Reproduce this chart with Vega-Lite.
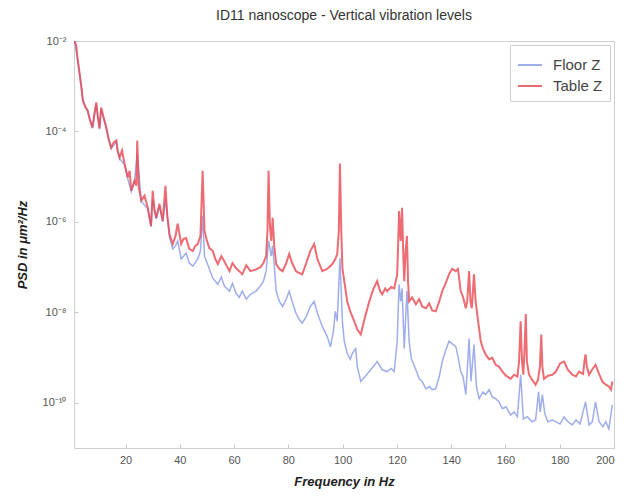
{
  "$schema": "https://vega.github.io/schema/vega-lite/v6.json",
  "autosize": "none",
  "width": 540,
  "height": 407,
  "padding": {"left": 74, "top": 41, "right": 20, "bottom": 48},
  "background": "white",
  "title": {"text": "ID11 nanoscope - Vertical vibration levels", "font": "Liberation Sans", "fontSize": 14, "fontWeight": "normal", "color": "#333333", "anchor": "middle", "offset": 12},
  "config": {
    "view": {"stroke": "#d0d0d0", "strokeWidth": 1},
    "axis": {"labelFont": "Liberation Sans", "titleFont": "Liberation Sans", "labelColor": "#555555", "labelFontSize": 11, "titleColor": "#222222", "titleFontSize": 13, "titleFontWeight": "bold", "titleFontStyle": "italic", "grid": false, "domainColor": "#d0d0d0", "tickColor": "#c8c8c8"}
  },
  "datasets": {
    "floor": [
      {"f":1.2,"p":1e-2},{"f":2.3,"p":3.98e-3},{"f":3.05,"p":1.86e-3},{"f":4.27,"p":4.68e-4},{"f":6.0,"p":2.82e-4},{"f":7.8,"p":1.17e-4},{"f":9.2,"p":3.98e-4},{"f":10.4,"p":1.12e-4},{"f":11.0,"p":3.16e-4},{"f":12.9,"p":1.17e-4},{"f":14.7,"p":4.17e-5},{"f":16.6,"p":5.89e-5},{"f":17.8,"p":2.51e-5},{"f":19.6,"p":1.86e-5},{"f":20.8,"p":9.12e-6},{"f":22.1,"p":4.68e-6},{"f":23.3,"p":7.76e-6},{"f":24.3,"p":3.16e-5},{"f":25.8,"p":2.82e-6},{"f":28.2,"p":1.95e-6},{"f":29.4,"p":7.76e-7},{"f":30.0,"p":3.16e-6},{"f":31.3,"p":1.17e-6},{"f":32.5,"p":2.24e-6},{"f":33.7,"p":1e-6},{"f":34.7,"p":3.16e-6},{"f":36.2,"p":4.47e-7},{"f":37.4,"p":2.51e-7},{"f":38.4,"p":2.95e-7},{"f":39.2,"p":3.8e-7},{"f":40.5,"p":1.51e-7},{"f":42.3,"p":2.04e-7},{"f":43.5,"p":1.23e-7},{"f":44.8,"p":1.05e-7},{"f":46.6,"p":1.51e-7},{"f":47.6,"p":2.29e-7},{"f":48.4,"p":1.35e-6},{"f":49.1,"p":1.74e-7},{"f":50.9,"p":9.12e-8},{"f":52.1,"p":5.75e-8},{"f":54.0,"p":4.17e-8},{"f":55.3,"p":6.03e-8},{"f":56.4,"p":3.8e-8},{"f":58.3,"p":2.95e-8},{"f":59.4,"p":4.37e-8},{"f":60.7,"p":2.63e-8},{"f":61.9,"p":2.14e-8},{"f":63.0,"p":2.95e-8},{"f":64.5,"p":1.95e-8},{"f":66.0,"p":2.51e-8},{"f":68.1,"p":2.95e-8},{"f":69.7,"p":3.8e-8},{"f":70.8,"p":4.9e-8},{"f":71.8,"p":8.13e-8},{"f":72.7,"p":3.8e-7},{"f":73.7,"p":1.74e-7},{"f":74.2,"p":2.95e-7},{"f":74.8,"p":1.05e-7},{"f":75.5,"p":2.95e-8},{"f":76.7,"p":1.74e-8},{"f":77.9,"p":1.35e-8},{"f":79.2,"p":1.95e-8},{"f":80.3,"p":2.95e-8},{"f":81.4,"p":1.74e-8},{"f":82.8,"p":9.55e-9},{"f":84.0,"p":6.92e-9},{"f":85.1,"p":5.75e-9},{"f":86.6,"p":8.13e-9},{"f":88.1,"p":1.35e-8},{"f":89.5,"p":1.74e-8},{"f":90.7,"p":9.55e-9},{"f":92.5,"p":4.9e-9},{"f":94.3,"p":2.95e-9},{"f":95.5,"p":1.74e-9},{"f":96.6,"p":3.8e-9},{"f":97.3,"p":1.05e-8},{"f":98.0,"p":6.31e-9},{"f":99.0,"p":1.58e-7},{"f":99.9,"p":6.31e-9},{"f":100.6,"p":2.29e-9},{"f":101.7,"p":1.23e-9},{"f":102.8,"p":9.12e-10},{"f":103.6,"p":1.26e-9},{"f":104.8,"p":1.58e-9},{"f":105.4,"p":6.31e-10},{"f":106.7,"p":2.95e-10},{"f":108.3,"p":3.8e-10},{"f":109.8,"p":4.9e-10},{"f":111.3,"p":6.31e-10},{"f":112.7,"p":8.13e-10},{"f":114.6,"p":5.37e-10},{"f":116.4,"p":4.9e-10},{"f":117.9,"p":5.75e-10},{"f":119.0,"p":4.9e-10},{"f":120.1,"p":2.29e-9},{"f":120.8,"p":4.17e-8},{"f":121.4,"p":1.74e-8},{"f":121.9,"p":3.39e-8},{"f":122.7,"p":1.58e-9},{"f":123.7,"p":2.95e-8},{"f":124.5,"p":2.29e-9},{"f":125.3,"p":9.55e-10},{"f":127.0,"p":5.37e-10},{"f":128.2,"p":3.39e-10},{"f":129.3,"p":2.95e-10},{"f":130.7,"p":2.04e-10},{"f":132.0,"p":2.29e-10},{"f":133.0,"p":1.95e-10},{"f":134.3,"p":2.04e-10},{"f":135.6,"p":3.8e-10},{"f":136.7,"p":8.13e-10},{"f":137.8,"p":1.35e-9},{"f":139.2,"p":2.29e-9},{"f":140.3,"p":2.04e-9},{"f":141.7,"p":1.74e-9},{"f":142.5,"p":1.05e-9},{"f":143.5,"p":4.9e-10},{"f":144.4,"p":3.8e-10},{"f":145.4,"p":1.51e-10},{"f":146.6,"p":2.63e-9},{"f":147.3,"p":2.95e-10},{"f":148.4,"p":1.95e-9},{"f":149.3,"p":2.29e-10},{"f":150.3,"p":1.23e-10},{"f":151.7,"p":1.74e-10},{"f":152.7,"p":1.51e-10},{"f":154.0,"p":1.95e-10},{"f":155.1,"p":1.35e-10},{"f":156.4,"p":1.23e-10},{"f":157.6,"p":1.05e-10},{"f":158.9,"p":7.41e-11},{"f":160.2,"p":8.13e-11},{"f":161.9,"p":5.37e-11},{"f":163.2,"p":6.31e-11},{"f":164.4,"p":4.9e-11},{"f":165.6,"p":4.17e-10},{"f":166.6,"p":4.37e-11},{"f":168.0,"p":4.9e-11},{"f":169.8,"p":3.8e-11},{"f":171.1,"p":4.17e-11},{"f":172.2,"p":1.74e-10},{"f":172.8,"p":6.31e-11},{"f":173.6,"p":1.51e-10},{"f":174.5,"p":5.75e-11},{"f":175.6,"p":3.8e-11},{"f":177.3,"p":4.17e-11},{"f":180.1,"p":3.39e-11},{"f":181.6,"p":4.9e-11},{"f":183.0,"p":3.8e-11},{"f":184.6,"p":3.24e-11},{"f":186.0,"p":4.17e-11},{"f":187.5,"p":3.39e-11},{"f":189.5,"p":1.05e-10},{"f":190.8,"p":3.24e-11},{"f":192.0,"p":3.8e-11},{"f":193.2,"p":1.05e-10},{"f":194.5,"p":3.8e-11},{"f":195.9,"p":2.95e-11},{"f":197.0,"p":3.8e-11},{"f":198.1,"p":2.63e-11},{"f":199.4,"p":9.12e-11}
    ],
    "table": [
      {"f":1.2,"p":1e-2},{"f":1.8,"p":8.1e-3},{"f":2.3,"p":4.17e-3},{"f":3.05,"p":1.95e-3},{"f":3.8,"p":9.12e-4},{"f":4.27,"p":4.9e-4},{"f":5.26,"p":3.39e-4},{"f":6.0,"p":2.95e-4},{"f":6.7,"p":1.95e-4},{"f":7.8,"p":1.23e-4},{"f":8.6,"p":2.63e-4},{"f":9.2,"p":4.37e-4},{"f":9.7,"p":2.29e-4},{"f":10.4,"p":1.17e-4},{"f":11.0,"p":3.39e-4},{"f":11.7,"p":2.29e-4},{"f":12.9,"p":1.23e-4},{"f":13.7,"p":6.92e-5},{"f":14.7,"p":4.37e-5},{"f":15.6,"p":5.75e-5},{"f":16.6,"p":6.31e-5},{"f":17.0,"p":3.8e-5},{"f":17.8,"p":2.63e-5},{"f":18.7,"p":3.8e-5},{"f":19.6,"p":1.95e-5},{"f":20.8,"p":9.55e-6},{"f":21.5,"p":1.35e-5},{"f":22.1,"p":4.9e-6},{"f":23.3,"p":8.13e-6},{"f":24.0,"p":6.31e-6},{"f":24.3,"p":6.31e-5},{"f":24.9,"p":5.75e-6},{"f":25.8,"p":2.95e-6},{"f":27.0,"p":3.8e-6},{"f":28.2,"p":2.04e-6},{"f":29.4,"p":8.13e-7},{"f":30.0,"p":4.9e-6},{"f":30.7,"p":1.74e-6},{"f":31.3,"p":1.23e-6},{"f":32.5,"p":2.51e-6},{"f":33.7,"p":1.05e-6},{"f":34.7,"p":6.31e-6},{"f":35.4,"p":1.35e-6},{"f":36.2,"p":5.37e-7},{"f":37.4,"p":3.24e-7},{"f":38.4,"p":4.9e-7},{"f":39.2,"p":9.12e-7},{"f":40.5,"p":3.24e-7},{"f":41.3,"p":4.17e-7},{"f":42.3,"p":4.37e-7},{"f":43.5,"p":2.51e-7},{"f":44.8,"p":2.29e-7},{"f":45.7,"p":2.95e-7},{"f":46.6,"p":3.24e-7},{"f":47.6,"p":4.9e-7},{"f":48.4,"p":1.35e-5},{"f":49.1,"p":6.31e-7},{"f":50.0,"p":3.8e-7},{"f":50.9,"p":2.63e-7},{"f":52.1,"p":2.29e-7},{"f":53.1,"p":1.51e-7},{"f":54.0,"p":1.17e-7},{"f":55.3,"p":1.74e-7},{"f":56.4,"p":1.35e-7},{"f":57.5,"p":1e-7},{"f":58.3,"p":8.13e-8},{"f":59.4,"p":1.23e-7},{"f":60.7,"p":9.55e-8},{"f":61.9,"p":8.13e-8},{"f":63.0,"p":6.92e-8},{"f":64.5,"p":1.1e-7},{"f":66.0,"p":8.13e-8},{"f":68.1,"p":8.9e-8},{"f":69.7,"p":1e-7},{"f":70.8,"p":1.23e-7},{"f":71.8,"p":1.74e-7},{"f":72.3,"p":6.31e-7},{"f":72.7,"p":1.35e-5},{"f":73.2,"p":8.13e-7},{"f":73.7,"p":3.8e-7},{"f":74.2,"p":1.23e-6},{"f":74.8,"p":2.95e-7},{"f":75.5,"p":1.17e-7},{"f":76.7,"p":9.12e-8},{"f":77.9,"p":8.13e-8},{"f":79.2,"p":1.23e-7},{"f":80.3,"p":1.95e-7},{"f":81.4,"p":1.23e-7},{"f":82.8,"p":8.13e-8},{"f":84.0,"p":7.41e-8},{"f":85.1,"p":6.92e-8},{"f":86.6,"p":1.23e-7},{"f":88.1,"p":2.29e-7},{"f":89.5,"p":3.24e-7},{"f":90.7,"p":1.51e-7},{"f":92.5,"p":8.13e-8},{"f":94.3,"p":9.12e-8},{"f":96.2,"p":1.17e-7},{"f":97.3,"p":1.51e-7},{"f":98.0,"p":1.95e-7},{"f":98.6,"p":6.31e-7},{"f":99.0,"p":1.95e-5},{"f":99.5,"p":6.31e-7},{"f":99.9,"p":9.55e-8},{"f":100.6,"p":4.9e-8},{"f":101.7,"p":1.74e-8},{"f":102.8,"p":1.05e-8},{"f":104.3,"p":6.31e-9},{"f":105.4,"p":4.17e-9},{"f":106.7,"p":3.24e-9},{"f":107.2,"p":4.37e-9},{"f":108.3,"p":8.13e-9},{"f":109.8,"p":1.74e-8},{"f":111.3,"p":3.24e-8},{"f":112.7,"p":4.9e-8},{"f":113.8,"p":2.95e-8},{"f":114.6,"p":2.51e-8},{"f":115.7,"p":3.39e-8},{"f":116.4,"p":2.95e-8},{"f":117.9,"p":3.63e-8},{"f":119.0,"p":3.39e-8},{"f":120.1,"p":6.92e-8},{"f":120.6,"p":6.31e-7},{"f":120.8,"p":1.74e-6},{"f":121.4,"p":3.8e-7},{"f":121.9,"p":2.04e-6},{"f":122.3,"p":2.29e-7},{"f":122.7,"p":4.9e-8},{"f":123.2,"p":2.29e-7},{"f":123.7,"p":4.9e-7},{"f":124.1,"p":4.9e-8},{"f":124.5,"p":1.74e-8},{"f":125.6,"p":2.14e-8},{"f":127.0,"p":1.51e-8},{"f":128.2,"p":1.95e-8},{"f":129.3,"p":1.35e-8},{"f":130.7,"p":1.23e-8},{"f":131.9,"p":1.58e-8},{"f":133.0,"p":1.1e-8},{"f":134.3,"p":1.05e-8},{"f":135.6,"p":1.74e-8},{"f":136.7,"p":2.95e-8},{"f":137.8,"p":4.17e-8},{"f":139.2,"p":6.92e-8},{"f":140.3,"p":9.12e-8},{"f":141.7,"p":8.13e-8},{"f":142.5,"p":9.12e-8},{"f":143.5,"p":2.95e-8},{"f":144.4,"p":2.14e-8},{"f":145.4,"p":1.23e-8},{"f":145.9,"p":1.74e-8},{"f":146.6,"p":8.13e-8},{"f":147.1,"p":1.74e-8},{"f":147.6,"p":1.23e-8},{"f":148.4,"p":6.92e-8},{"f":149.0,"p":1.74e-8},{"f":149.6,"p":9.12e-9},{"f":150.9,"p":2.29e-9},{"f":151.7,"p":1.58e-9},{"f":152.7,"p":1.17e-9},{"f":154.0,"p":9.12e-10},{"f":155.1,"p":1e-9},{"f":156.4,"p":6.92e-10},{"f":157.6,"p":6.31e-10},{"f":158.9,"p":4.9e-10},{"f":160.2,"p":3.98e-10},{"f":161.9,"p":3.39e-10},{"f":163.2,"p":4.17e-10},{"f":164.4,"p":3.8e-10},{"f":165.0,"p":8.13e-10},{"f":165.6,"p":6.31e-9},{"f":166.1,"p":8.13e-10},{"f":166.6,"p":4.17e-10},{"f":167.0,"p":1.35e-9},{"f":167.5,"p":9.12e-9},{"f":167.9,"p":8.13e-10},{"f":168.7,"p":4.17e-10},{"f":169.8,"p":3.24e-10},{"f":171.1,"p":2.51e-10},{"f":172.0,"p":3.24e-10},{"f":172.7,"p":6.31e-10},{"f":173.2,"p":3.24e-9},{"f":173.6,"p":6.31e-10},{"f":174.2,"p":3.39e-10},{"f":175.7,"p":3.98e-10},{"f":177.3,"p":4.17e-10},{"f":178.6,"p":4.9e-10},{"f":180.1,"p":7.41e-10},{"f":181.6,"p":8.13e-10},{"f":183.0,"p":5.37e-10},{"f":184.6,"p":4.17e-10},{"f":186.0,"p":3.8e-10},{"f":187.1,"p":4.9e-10},{"f":188.6,"p":4.37e-10},{"f":189.1,"p":8.13e-10},{"f":189.5,"p":1.17e-9},{"f":190.0,"p":6.31e-10},{"f":190.8,"p":4.17e-10},{"f":191.9,"p":5.37e-10},{"f":193.2,"p":6.92e-10},{"f":194.5,"p":4.37e-10},{"f":195.7,"p":2.95e-10},{"f":197.0,"p":2.51e-10},{"f":198.1,"p":2.29e-10},{"f":198.9,"p":1.95e-10},{"f":199.4,"p":2.95e-10}
    ]
  },
  "encoding": {
    "x": {"field": "f", "type": "quantitative", "title": "Frequency in Hz",
      "scale": {"domain": [1, 200], "nice": false, "zero": false},
      "axis": {"values": [20,40,60,80,100,120,140,160,180,200], "tickSize": -4, "labelPadding": 10, "titlePadding": 10}},
    "y": {"field": "p", "type": "quantitative", "title": "PSD in μm²/Hz",
      "scale": {"type": "log", "domain": [1e-11, 1e-2], "nice": false},
      "axis": {"values": [1e-2,1e-4,1e-6,1e-8,1e-10], "tickSize": -4, "labelPadding": 12, "titlePadding": 13,
        "labelExpr": "'10' + (round(log(datum.value)/LN10) == -2 ? '⁻²' : round(log(datum.value)/LN10) == -4 ? '⁻⁴' : round(log(datum.value)/LN10) == -6 ? '⁻⁶' : round(log(datum.value)/LN10) == -8 ? '⁻⁸' : '⁻¹⁰')"}}
  },
  "layer": [
    {
      "data": {"name": "floor"},
      "mark": {"type": "line", "clip": true, "strokeWidth": 1.5, "opacity": 0.8},
      "encoding": {
        "color": {"datum": "Floor Z", "type": "nominal",
          "scale": {"domain": ["Floor Z", "Table Z"], "range": ["#8799e6", "#e8464f"]},
          "legend": {"title": null, "orient": "top-right", "offset": 4, "padding": 7, "strokeColor": "#d0d0d0", "fillColor": "white",
            "symbolType": "stroke", "symbolSize": 576, "symbolStrokeWidth": 2, "labelFont": "Liberation Sans", "labelFontSize": 15, "labelOffset": 10, "labelColor": "#444444", "rowPadding": 0, "symbolOpacity": 0.8}}
      }
    },
    {
      "data": {"name": "table"},
      "mark": {"type": "line", "clip": true, "strokeWidth": 2, "opacity": 0.8},
      "encoding": {
        "color": {"datum": "Table Z", "type": "nominal"}
      }
    }
  ]
}
